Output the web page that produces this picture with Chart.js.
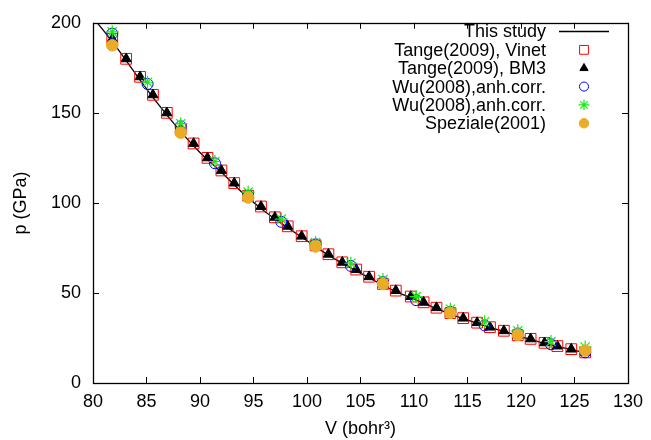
<!DOCTYPE html>
<html>
<head>
<meta charset="utf-8">
<script src="https://cdn.jsdelivr.net/npm/chart.js@4/dist/chart.umd.min.js"></script>
<style>
  html, body { margin: 0; padding: 0; background: #fff; }
  #wrap { width: 651px; height: 440px; }
</style>
</head>
<body>
<div id="wrap"><canvas id="myChart" width="651" height="440"></canvas></div>
<script>
// This study (curve)
const studyV = [80.4, 82, 84, 86, 88, 90, 92, 94, 96, 98, 100, 102, 104, 106, 108, 110, 112, 114, 116, 118, 120, 122, 124, 126];
const studyP = [200, 188, 171.5, 155.5, 141, 128, 117, 105.5, 95.5, 87, 79, 71, 64.2, 57.8, 51.6, 46.6, 41.6, 37, 33, 29.3, 25.8, 22.3, 19.5, 16.8];

// Tange(2009) - same volumes for Vinet and BM3
const tangeV = [81.8, 83.1, 84.4, 85.6, 86.9, 88.2, 89.4, 90.7, 92.0, 93.2, 94.5, 95.7, 97.0, 98.2, 99.5, 100.8, 102.0, 103.3, 104.6, 105.8, 107.1, 108.3, 109.7, 110.9, 112.1, 113.4, 114.6, 115.9, 117.1, 118.4, 119.7, 120.9, 122.2, 123.4, 124.7, 126.0];
const tangeVinetP = [191, 180, 170, 160, 150, 141, 133, 125, 118, 111, 104, 98, 92, 87, 81.5, 76.5, 71.5, 67, 63, 59, 55, 51.3, 48, 44.8, 41.8, 38.8, 36, 33.5, 31, 29, 26.5, 24.5, 22.3, 20.5, 18.8, 17];
const tangeBM3P = [191, 180, 170, 160, 150, 141, 133, 125, 118, 111, 104, 98, 92, 87, 81.5, 76.5, 71.5, 67, 63, 59, 55, 51.3, 48, 44.8, 41.8, 38.8, 36, 33.5, 31, 29, 26.5, 24.5, 22.3, 20.5, 18.8, 17];

// Wu(2008)
const wuV = [81.8, 85.1, 88.2, 91.4, 94.5, 97.6, 100.8, 104.1, 107.1, 110.2, 113.4, 116.6, 119.7, 122.8, 126.0];
const wuP1 = [194, 166, 142.5, 122, 104, 89.5, 77, 65, 56, 46, 39.5, 32, 27.5, 21.5, 17];
const wuP2 = [195, 167, 144, 123, 106, 91, 78, 66.5, 57.5, 48, 41, 34, 29, 23, 20];

// Speziale(2001)
const spezV = [81.8, 88.2, 94.5, 100.8, 107.1, 113.4, 119.7, 126.0];
const spezP = [187.5, 139, 103, 75.8, 55, 39, 26.8, 18];

const xTicks = [80, 85, 90, 95, 100, 105, 110, 115, 120, 125, 130];
const yTicks = [0, 50, 100, 150, 200];

function pts(xs, ys) {
    return xs.map(function(x, i) { return {x: x, y: ys[i]}; });
}

const FONT = '"Liberation Sans", Arial, sans-serif';
const FSIZE = 18;

const datasets = [
    {
        label: 'This study', data: pts(studyV, studyP), showLine: true,
        borderColor: '#000', borderWidth: 1.3, pointRadius: 0, tension: 0.4,
        cubicInterpolationMode: 'monotone', order: 6
    },
    {
        label: 'Tange(2009), Vinet', data: pts(tangeV, tangeVinetP),
        pointStyle: 'rect', pointRadius: 7.6, borderColor: '#ff0000', borderWidth: 1,
        backgroundColor: 'rgba(0,0,0,0)', order: 5
    },
    {
        label: 'Tange(2009), BM3', data: pts(tangeV, tangeBM3P),
        pointStyle: 'triangle', pointRadius: 5.8, borderColor: '#000', borderWidth: 1,
        backgroundColor: '#000', order: 4
    },
    {
        label: 'Wu(2008),anh.corr.', data: pts(wuV, wuP1),
        pointStyle: 'circle', pointRadius: 5.5, borderColor: '#0000ff', borderWidth: 1,
        backgroundColor: 'rgba(0,0,0,0)', order: 3
    },
    {
        label: 'Wu(2008),anh.corr.', data: pts(wuV, wuP2),
        pointStyle: 'star', pointRadius: 6.5, borderColor: '#11ee11', borderWidth: 1.2,
        backgroundColor: 'rgba(0,0,0,0)', order: 2
    },
    {
        label: 'Speziale(2001)', data: pts(spezV, spezP),
        pointStyle: 'circle', pointRadius: 5.8, borderColor: '#e9ab28', borderWidth: 1,
        backgroundColor: '#e9ab28', order: 1
    }
];

// cadre + graduations vers l'intérieur (style gnuplot)
const framePlugin = {
    id: 'frame',
    beforeDatasetsDraw: function(chart) {
        const ctx = chart.ctx;
        const a = chart.chartArea;
        const xs = chart.scales.x, ys = chart.scales.y;
        ctx.save();
        ctx.strokeStyle = '#000';
        ctx.lineWidth = 1;
        ctx.beginPath();
        xTicks.forEach(function(v) {
            const px = Math.round(xs.getPixelForValue(v)) + 0.5;
            ctx.moveTo(px, a.bottom); ctx.lineTo(px, a.bottom - 6);
            ctx.moveTo(px, a.top); ctx.lineTo(px, a.top + 6);
        });
        yTicks.forEach(function(v) {
            const py = Math.round(ys.getPixelForValue(v)) + 0.5;
            ctx.moveTo(a.left, py); ctx.lineTo(a.left + 6, py);
            ctx.moveTo(a.right, py); ctx.lineTo(a.right - 6, py);
        });
        ctx.stroke();
        ctx.lineWidth = 1.3;
        ctx.strokeRect(Math.round(a.left) + 0.5, Math.round(a.top) + 0.5,
            Math.round(a.right - a.left), Math.round(a.bottom - a.top));
        ctx.restore();
    }
};

function drawSymbol(ctx, ds, x, y) {
    ctx.save();
    ctx.strokeStyle = ds.borderColor;
    ctx.fillStyle = ds.backgroundColor;
    ctx.lineWidth = ds.borderWidth;
    if (ds.pointRadius === 0) {
        ctx.beginPath();
        ctx.moveTo(x - 25, y); ctx.lineTo(x + 25, y);
        ctx.stroke();
    } else if (Chart.helpers && Chart.helpers.drawPoint) {
        Chart.helpers.drawPoint(ctx, {
            pointStyle: ds.pointStyle, radius: ds.pointRadius * 0.82,
            rotation: 0, borderWidth: ds.borderWidth
        }, x, y);
    }
    ctx.restore();
}

// légende à droite, texte aligné à droite puis symbole
const legendPlugin = {
    id: 'gpLegend',
    afterDraw: function(chart) {
        const ctx = chart.ctx;
        ctx.save();
        ctx.font = FSIZE + 'px ' + FONT;
        ctx.textAlign = 'right';
        ctx.textBaseline = 'middle';
        ctx.fillStyle = '#000';
        chart.data.datasets.forEach(function(ds, i) {
            const y = 31.5 + i * 18.35;
            ctx.fillText(ds.label, 546, y + 1);
            drawSymbol(ctx, ds, 584, y);
        });
        ctx.restore();
    }
};

new Chart(document.getElementById('myChart'), {
    type: 'scatter',
    data: { datasets: datasets },
    plugins: [framePlugin, legendPlugin],
    options: {
        responsive: false,
        animation: false,
        layout: { padding: { left: 0, top: 16, right: 20, bottom: 0 } },
        plugins: { legend: { display: false }, tooltip: { enabled: false } },
        scales: {
            x: {
                type: 'linear', min: 80, max: 130,
                afterBuildTicks: function(s) { s.ticks = xTicks.map(function(v) { return {value: v}; }); },
                afterFit: function(s) { s.height = 57; },
                grid: { display: false, drawTicks: false },
                border: { display: false },
                ticks: { color: '#000', padding: 8, maxRotation: 0, font: { family: FONT, size: FSIZE } },
                title: { display: true, text: 'V (bohr³)', color: '#000', padding: { top: 0, bottom: 0 }, font: { family: FONT, size: FSIZE } }
            },
            y: {
                type: 'linear', min: 0, max: 200,
                afterBuildTicks: function(s) { s.ticks = yTicks.map(function(v) { return {value: v}; }); },
                afterFit: function(s) { s.width = 93; },
                grid: { display: false, drawTicks: false },
                border: { display: false },
                ticks: { color: '#000', padding: 12, font: { family: FONT, size: FSIZE } },
                title: { display: true, text: 'p (GPa)', color: '#000', padding: { top: 10, bottom: 0 }, font: { family: FONT, size: FSIZE } }
            }
        }
    }
});
</script>
</body>
</html>
